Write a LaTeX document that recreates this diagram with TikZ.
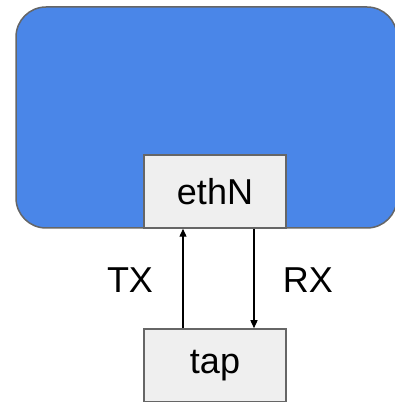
\documentclass[tikz,border=0pt]{standalone}
\usepackage{fontspec}
\setmainfont{Liberation Sans}
\usetikzlibrary{arrows.meta}
\definecolor{hostblue}{HTML}{4A86E8}
\definecolor{boxgray}{HTML}{EFEFEF}
\definecolor{edgegray}{HTML}{666666}
\tikzset{
  x=1pt, y=1pt,
  host/.style={draw=edgegray, line width=1.5pt, fill=hostblue, rounded corners=30pt},
  iface/.style={draw=edgegray, line width=1.5pt, fill=boxgray, minimum width=142pt,
    minimum height=73pt, inner sep=0pt, font=\fontsize{36}{42}\selectfont},
  lbl/.style={font=\fontsize{36}{42}\selectfont, inner sep=0pt},
  link/.style={line width=1.3pt, -{Triangle[length=8pt,width=7pt]}}
}
\begin{document}
\begin{tikzpicture}
\useasboundingbox (0,0) rectangle (395,402);
% host body
\draw[host] (16,174) rectangle (397,395);
% interface and tap device
\node[iface] (eth) at (215,210.5) {ethN};
\node[iface] (tap) at (215,36.5) {tap};
% traffic directions
\coordinate (txx) at (183,0);
\coordinate (rxx) at (254,0);
\draw[link] (tap.north -| txx) -- (eth.south -| txx);
\draw[link] (eth.south -| rxx) -- (tap.north -| rxx);
\node[lbl] (tx) at (130,122) {TX};
\node[lbl] (rx) at (308,122) {RX};
\end{tikzpicture}
\end{document}
